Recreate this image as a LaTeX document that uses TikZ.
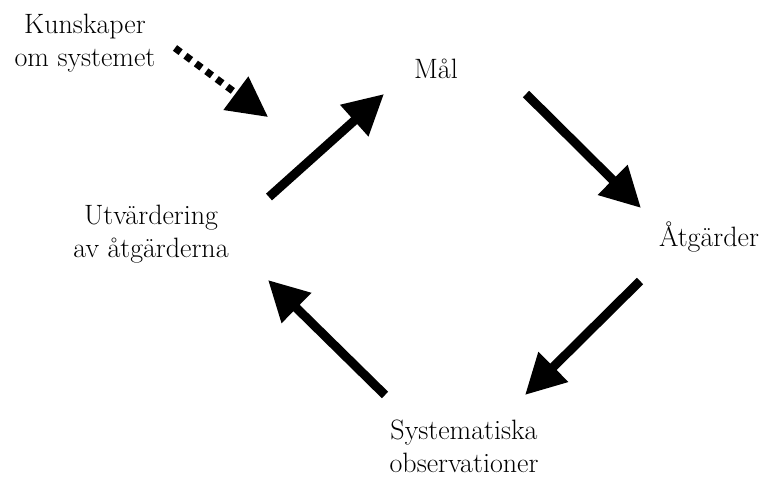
\documentclass[tikz,border=0pt]{standalone}
\usetikzlibrary{arrows.meta}

\begin{document}
\begin{tikzpicture}[
  x=1pt, y=-1pt,
  label/.style={
    align=center,
    anchor=base,
    inner sep=0pt,
    font=\fontsize{28}{33}\selectfont
  },
  arrow/.style={
    -{Triangle[length=40pt, width=40pt]},
    line width=9pt
  },
  dotarrow/.style={
    arrow,
    line width=7pt,
    dash pattern=on 7pt off 6pt
  }
]

\useasboundingbox (0,0) rectangle (781,486);

% texts (base = last line)
\node[label] (kunskap) at (85,67) {Kunskaper\\om systemet};
\node[label] (mal) at (436,79) {Mål};
\node[label] (atg) at (709,247) {Åtgärder};
\node[label] (sys) at (464,472) {Systematiska\\observationer};
\node[label] (utv) at (151,258) {Utvärdering\\av åtgärderna};

% arrow ends
\coordinate (k1) at (175,48);
\coordinate (k2) at (268,117);
\coordinate (u1) at (269,197);
\coordinate (u2) at (384,94);
\coordinate (m1) at (526,94);
\coordinate (m2) at (641,208);
\coordinate (a1) at (640,281);
\coordinate (a2) at (525,395);
\coordinate (s1) at (385,395);
\coordinate (s2) at (268,280);

% cycle
\draw[dotarrow] (k1) -- (k2);
\draw[arrow] (u1) -- (u2);
\draw[arrow] (m1) -- (m2);
\draw[arrow] (a1) -- (a2);
\draw[arrow] (s1) -- (s2);

\end{tikzpicture}
\end{document}
